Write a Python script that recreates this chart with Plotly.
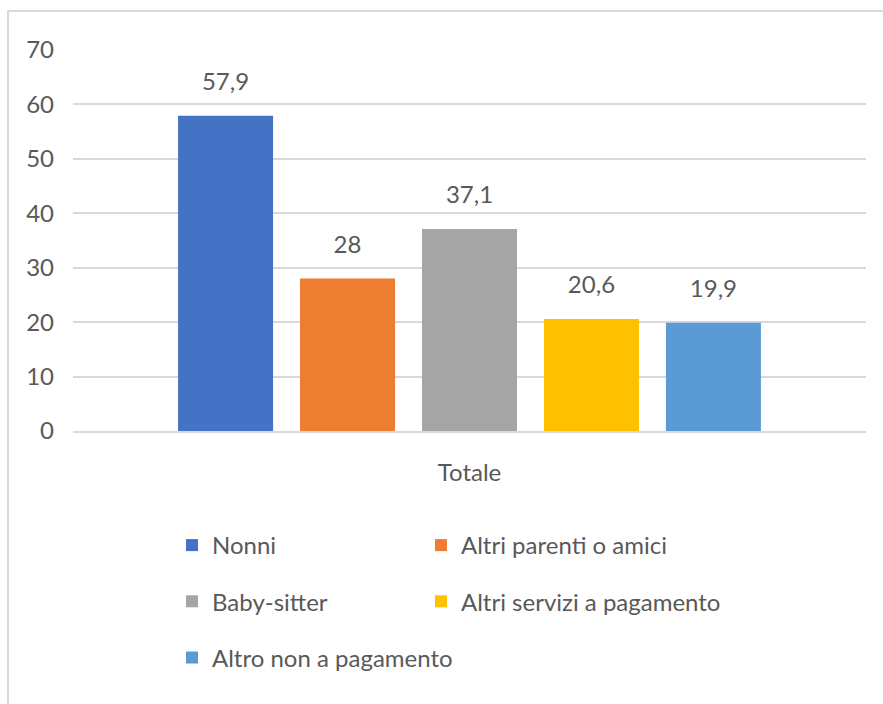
import plotly.graph_objects as go

categories = ["Totale"]
series_names = ["Nonni", "Altri parenti o amici", "Baby-sitter",
                "Altri servizi a pagamento", "Altro non a pagamento"]
series_values = [57.9, 28.0, 37.1, 20.6, 19.9]
value_labels = ["57,9", "28", "37,1", "20,6", "19,9"]
colors = ["#4472C4", "#ED7D31", "#A5A5A5", "#FFC000", "#5B9BD5"]
legend_ids = ["legend", "legend2", "legend", "legend2", "legend"]
y_ticks = [0, 10, 20, 30, 40, 50, 60, 70]

FONT = "Lato, Liberation Sans, sans-serif"
TXT = "#595959"
FS = 24
BARGAP = 0.231

fig = go.Figure()
for i, name in enumerate(series_names):
    fig.add_trace(go.Bar(
        x=categories, y=[series_values[i]], name=name,
        marker=dict(color=colors[i], line=dict(width=0)),
        legend=legend_ids[i], legendgroup=name,
        hoverinfo="skip",
    ))
for i, name in enumerate(series_names):
    fig.add_trace(go.Scatter(
        x=categories, y=[series_values[i]], text=[value_labels[i]],
        mode="markers+text", textposition="top center",
        marker=dict(size=30, color="rgba(0,0,0,0)"),
        textfont=dict(family=FONT, size=FS, color=TXT),
        showlegend=False, hoverinfo="skip", cliponaxis=False,
    ))

W, H = 883, 704
L, R, T, B = 73, 17, 50, 273
pw, ph = W - L - R, H - T - B

def px_x(X):
    return (X - L) / pw

def px_y(Y):
    return (H - B - Y) / ph

legend_common = dict(
    orientation="v", yanchor="top", xanchor="left",
    font=dict(family=FONT, size=FS, color=TXT),
    bgcolor="rgba(0,0,0,0)", tracegroupgap=22, itemclick=False,
)

fig.update_layout(
    width=W, height=H,
    margin=dict(l=L, r=R, t=T, b=B),
    paper_bgcolor="white", plot_bgcolor="white",
    barmode="group", bargap=BARGAP, bargroupgap=0.221,
    scattermode="group", scattergap=BARGAP,
    font=dict(family=FONT, size=FS, color=TXT),
    showlegend=True,
    legend=dict(x=px_x(172), y=px_y(523), **legend_common),
    legend2=dict(x=px_x(421), y=px_y(523), **legend_common),
    xaxis=dict(
        type="category", showgrid=False, showline=True,
        linecolor="#D9D9D9", linewidth=2, ticks="",
        tickfont=dict(family=FONT, size=FS, color=TXT),
        ticklabelstandoff=19, fixedrange=True,
    ),
    yaxis=dict(
        range=[0, 70], tickvals=y_ticks, showgrid=True,
        gridcolor="#D9D9D9", gridwidth=2, zeroline=False,
        showline=False, ticks="",
        tickfont=dict(family=FONT, size=FS, color=TXT),
        ticklabelstandoff=18, fixedrange=True,
    ),
    shapes=[dict(
        type="rect", xref="paper", yref="paper",
        x0=px_x(8), x1=px_x(W + 10), y0=px_y(H + 10), y1=px_y(11),
        line=dict(color="#D9D9D9", width=2), fillcolor="rgba(0,0,0,0)",
        layer="below",
    )],
)

fig.write_html("out.html", config={"displayModeBar": False},
               post_script="document.body.style.margin='0';")
